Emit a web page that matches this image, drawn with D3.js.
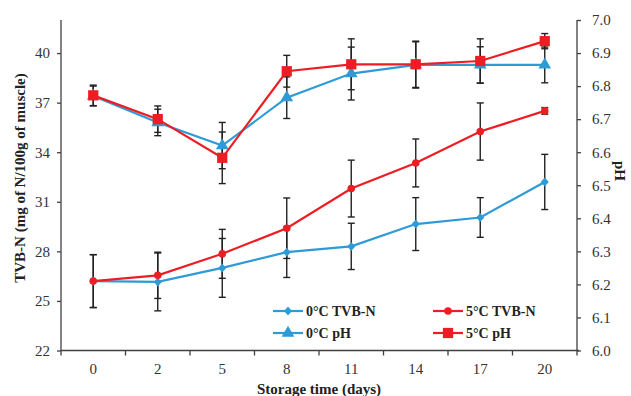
<!DOCTYPE html>
<html><head><meta charset="utf-8">
<script src="https://cdn.jsdelivr.net/npm/d3@7"></script>
<style>
body{margin:0;background:#fff;}
svg{display:block;}
text{font-family:"Liberation Serif","Times New Roman",serif;}
</style></head>
<body>
<svg id="chart" width="631" height="396"></svg>
<script>
const days = ["0","2","5","8","11","14","17","20"];
const tvb0 = [26.2, 26.15, 27.0, 27.95, 28.3, 29.65, 30.05, 32.2];
const tvb0Err = [1.6, 1.75, 1.78, 1.53, 1.4, 1.6, 1.2, 1.67];
const tvb5 = [26.2, 26.55, 27.85, 29.4, 31.8, 33.35, 35.25, 36.5];
const tvb5Err = [1.6, 1.4, 1.48, 1.83, 1.72, 1.45, 1.73, 0.2];
const ph0 = [6.77, 6.69, 6.62, 6.765, 6.838, 6.864, 6.864, 6.864];
const ph0Err = [0.03, 0.04, 0.07, 0.063, 0.08, 0.07, 0.055, 0.054];
const ph5 = [6.772, 6.70, 6.583, 6.845, 6.866, 6.866, 6.876, 6.936];
const ph5Err = [0.031, 0.04, 0.078, 0.048, 0.077, 0.07, 0.067, 0.023];
const leftTicks = [22, 25, 28, 31, 34, 37, 40];
const rightTicks = [6.0, 6.1, 6.2, 6.3, 6.4, 6.5, 6.6, 6.7, 6.8, 6.9, 7.0];
const seriesNames = ["0°C TVB-N", "5°C TVB-N", "0°C pH", "5°C pH"];

const BLUE = "#2E9BD6", RED = "#EE1D24";
const svg = d3.select("#chart");
const L = 61, R = 577, T = 20, B = 350.5;

const x = d3.scaleBand().domain(days).range([L, R]).padding(0);
const yL = d3.scaleLinear().domain([22, 42]).range([B, T]);
const yR = d3.scaleLinear().domain([6, 7]).range([B, T]);
const cx = d => x(d) + x.bandwidth() / 2;

const axisColor = "#404040";
// axes
const gL = svg.append("g").attr("transform", `translate(${L},0)`)
  .call(d3.axisLeft(yL).tickValues(leftTicks).tickSize(4).tickSizeOuter(0).tickPadding(7).tickFormat(d3.format("d")));
const gR = svg.append("g").attr("transform", `translate(${R},0)`)
  .call(d3.axisRight(yR).tickValues(rightTicks).tickSize(4).tickSizeOuter(0).tickPadding(11).tickFormat(d3.format(".1f")));
const gX = svg.append("g").attr("transform", `translate(0,${B})`)
  .call(d3.axisBottom(x).tickSize(0).tickSizeOuter(0).tickPadding(13));
// x boundary ticks
const bounds = days.map(d => x(d)).concat([R]);
gX.selectAll("line.bt").data(bounds).enter().append("line").attr("class", "bt")
  .attr("x1", d => d).attr("x2", d => d).attr("y1", 0).attr("y2", 5);
[gL, gR, gX].forEach(g => {
  g.select(".domain").attr("stroke", axisColor).attr("stroke-width", 1.3);
  g.selectAll("line").attr("stroke", axisColor).attr("stroke-width", 1.3);
  g.selectAll("text").attr("font-size", 15).attr("fill", "#333")
    .attr("font-family", '"Liberation Serif","Times New Roman",serif');
});
gL.select(".domain").attr("d", `M0,${B}V${T}`);
gR.select(".domain").attr("d", `M0,${B}V${T}`);
gX.select(".domain").attr("d", `M${L},0H${R + 2}`);

// titles
svg.append("text").attr("transform", `translate(25,178) rotate(-90)`)
  .attr("text-anchor", "middle").attr("font-weight", "bold").attr("font-size", 15).attr("fill", "#222")
  .text("TVB-N (mg of N/100g of muscle)");
svg.append("text").attr("transform", `translate(615,171) rotate(90)`)
  .attr("text-anchor", "middle").attr("font-weight", "bold").attr("font-size", 15).attr("fill", "#222")
  .text("pH");
svg.append("text").attr("x", 319).attr("y", 394).attr("text-anchor", "middle")
  .attr("font-weight", "bold").attr("font-size", 15).attr("fill", "#222")
  .text("Storage time (days)");

const series = [
  {name: seriesNames[0], vals: tvb0, err: tvb0Err, y: yL, color: BLUE, sym: "diamond"},
  {name: seriesNames[1], vals: tvb5, err: tvb5Err, y: yL, color: RED, sym: "circle"},
  {name: seriesNames[2], vals: ph0, err: ph0Err, y: yR, color: BLUE, sym: "triangle"},
  {name: seriesNames[3], vals: ph5, err: ph5Err, y: yR, color: RED, sym: "square"}
];
const symMap = {
  circle: d3.symbol().type(d3.symbolCircle).size(45),
  triangle: d3.symbol().type(d3.symbolTriangle).size(70),
  square: d3.symbol().type(d3.symbolSquare).size(105)
};
const symPath = s => {
  if (s === "diamond") return "M0,-4.5L4,0L0,4.5L-4,0Z";
  return symMap[s]();
};

// error bars
const eg = svg.append("g");
series.forEach(s => {
  s.vals.forEach((v, i) => {
    const xc = cx(days[i]);
    const y1 = s.y(v + s.err[i]), y2 = s.y(v - s.err[i]);
    eg.append("line").attr("x1", xc).attr("x2", xc).attr("y1", y1).attr("y2", y2)
      .attr("stroke", "#222").attr("stroke-width", 1.4);
    [y1, y2].forEach(yy => eg.append("line").attr("x1", xc - 3.5).attr("x2", xc + 3.5)
      .attr("y1", yy).attr("y2", yy).attr("stroke", "#222").attr("stroke-width", 1.4));
  });
});

// lines and markers
series.forEach(s => {
  const line = d3.line().x((v, i) => cx(days[i])).y(v => s.y(v));
  svg.append("path").datum(s.vals).attr("d", line).attr("fill", "none")
    .attr("stroke", s.color).attr("stroke-width", 2.2);
  svg.append("g").selectAll("path").data(s.vals).enter().append("path")
    .attr("transform", (v, i) => `translate(${cx(days[i])},${s.y(v)})`)
    .attr("d", symPath(s.sym)).attr("fill", s.color);
});

// legend
const legPos = [[273, 311], [433, 311], [273, 333], [433, 333]];
series.forEach((s, i) => {
  const [lx, ly] = legPos[i];
  const g = svg.append("g").attr("transform", `translate(${lx},${ly})`);
  g.append("line").attr("x1", 0).attr("x2", 30).attr("y1", 0).attr("y2", 0)
    .attr("stroke", s.color).attr("stroke-width", 2.2);
  g.append("path").attr("transform", "translate(15,0)").attr("d", symPath(s.sym)).attr("fill", s.color);
  g.append("text").attr("x", 33).attr("y", 5).attr("font-size", 14).attr("font-weight", "bold")
    .attr("fill", "#222").text(s.name);
});
</script>
</body></html>
